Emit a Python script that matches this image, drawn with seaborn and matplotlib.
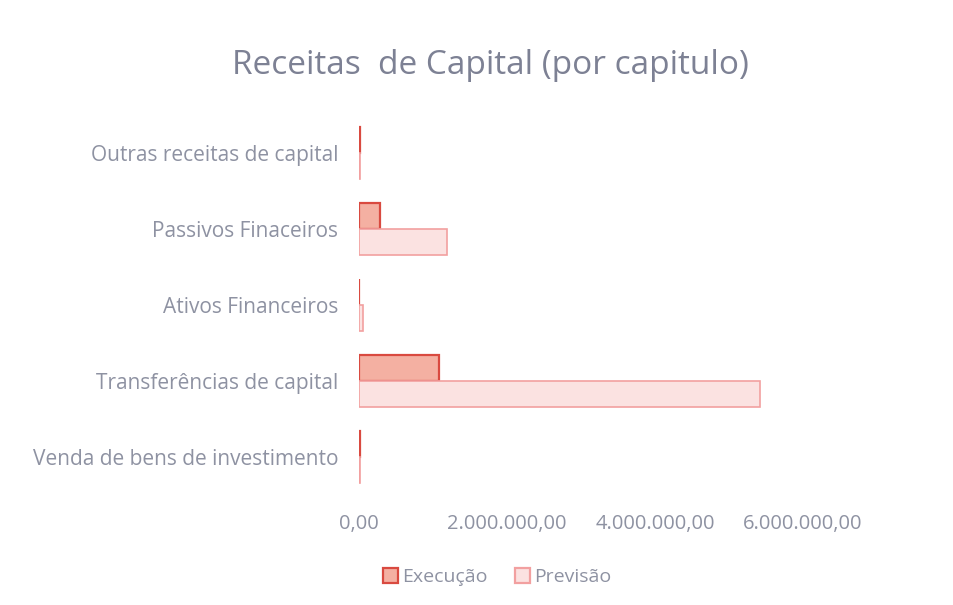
import matplotlib
matplotlib.use("Agg")
import matplotlib.pyplot as plt
import matplotlib.ticker as mticker
from matplotlib.patches import Patch
import seaborn as sns
import pandas as pd

categories = ["Outras receitas de capital", "Passivos Finaceiros", "Ativos Financeiros",
              "Transferências de capital", "Venda de bens de investimento"]
execucao = [15000, 280000, 5000, 1080000, 10000]
previsao = [15000, 1190000, 50000, 5420000, 20000]
series = ["Execução", "Previsão"]
ticks = [0, 2000000, 4000000, 6000000]

df = pd.DataFrame({
    "cat": categories * 2,
    "val": execucao + previsao,
    "serie": [series[0]] * len(categories) + [series[1]] * len(categories),
})

sns.set_theme(style="white")
plt.rcParams["font.family"] = ["Open Sans", "DejaVu Sans"]
txt = "#8e92a2"

fig = plt.figure(figsize=(9.54, 6.05), dpi=100)
ax = fig.add_axes([359/954, 1 - 495/605, (803-359)/954, (495-115)/605])

fills = {"Execução": "#f4b0a2", "Previsão": "#fbe2e1"}
edges = {"Execução": "#d94a40", "Previsão": "#f2a0a0"}
sns.barplot(data=df, x="val", y="cat", hue="serie", order=categories, hue_order=series,
            palette=fills, saturation=1, orient="h", width=0.68, ax=ax, legend=False)
for cont, s in zip(ax.containers, series):
    for bar in cont:
        bar.set_edgecolor(edges[s])
        bar.set_linewidth(1.6 if s == "Execução" else 1.2)

ax.set_xlim(0, 6000000)
ax.set_xticks(ticks)
ax.xaxis.set_major_formatter(mticker.FuncFormatter(
    lambda v, p: f"{v:,.2f}".replace(",", "X").replace(".", ",").replace("X", ".")))
ax.set_xlabel("")
ax.set_ylabel("")
for sp in ax.spines.values():
    sp.set_visible(False)
ax.tick_params(axis="x", length=0, colors=txt, labelsize=14.5, pad=14)
ax.tick_params(axis="y", length=0, colors=txt, labelsize=15, pad=15)
for lab in ax.get_xticklabels() + ax.get_yticklabels():
    lab.set_color(txt)

fig.text(490/954, 1 - 66/605, "Receitas  de Capital (por capitulo)", ha="center", va="center",
         fontsize=24, color="#7d8194")

handles = [Patch(facecolor=fills[s], edgecolor=edges[s], linewidth=1.6, label=s) for s in series]
fig.legend(handles=handles, loc="center", bbox_to_anchor=(497/954, 1 - 577/605), ncol=2,
           frameon=False, fontsize=14, labelcolor=txt, handlelength=0.8, handleheight=0.8,
           handletextpad=0.2, columnspacing=1.4)

fig.savefig("out.png", dpi=100, facecolor="white")
